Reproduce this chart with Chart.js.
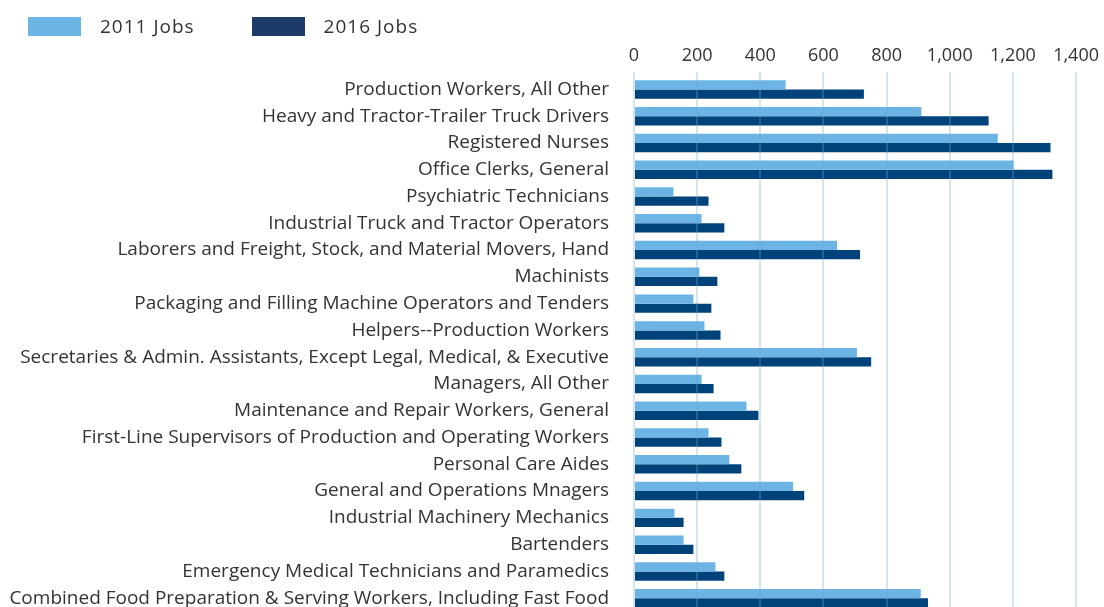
<!DOCTYPE html>
<html>
<head>
<meta charset="utf-8">
<script src="https://cdn.jsdelivr.net/npm/chart.js@4.4.1/dist/chart.umd.min.js"></script>
<style>
  html, body { margin: 0; padding: 0; background: #fff; overflow: hidden; }
  #wrap { position: relative; width: 1104px; height: 640px; }
  #legend { position: absolute; left: 28px; top: 13px; display: flex; font-family: 'Open Sans', sans-serif; font-size: 19px; letter-spacing: 1px; color: #333; }
  .item { display: flex; align-items: center; margin-right: 57px; }
  .swatch { width: 53px; height: 19px; margin-right: 19px; }
</style>
</head>
<body>
<div id="wrap">
  <canvas id="chart" width="1104" height="640"></canvas>
  <div id="legend"></div>
</div>
<script>
// --- Data ---
const categories = [
  'Production Workers, All Other',
  'Heavy and Tractor-Trailer Truck Drivers',
  'Registered Nurses',
  'Office Clerks, General',
  'Psychiatric Technicians',
  'Industrial Truck and Tractor Operators',
  'Laborers and Freight, Stock, and Material Movers, Hand',
  'Machinists',
  'Packaging and Filling Machine Operators and Tenders',
  'Helpers--Production Workers',
  'Secretaries & Admin. Assistants, Except Legal, Medical, & Executive',
  'Managers, All Other',
  'Maintenance and Repair Workers, General',
  'First-Line Supervisors of Production and Operating Workers',
  'Personal Care Aides',
  'General and Operations Mnagers',
  'Industrial Machinery Mechanics',
  'Bartenders',
  'Emergency Medical Technicians and Paramedics',
  'Combined Food Preparation & Serving Workers, Including Fast Food'
];
const jobs2011 = [480, 910, 1152, 1202, 125, 214, 643, 207, 188, 223, 706, 214, 356, 236, 302, 504, 128, 157, 258, 908];
const jobs2016 = [728, 1123, 1319, 1325, 236, 286, 716, 264, 245, 274, 751, 252, 394, 277, 340, 539, 157, 188, 286, 931];
const seriesNames = ['2011 Jobs', '2016 Jobs'];

const barColors = ['#6cb4e4', '#00437a'];
const legendColors = ['#6cb6e6', '#1d3a68'];

// --- Legend (HTML) ---
const legendEl = document.getElementById('legend');
seriesNames.forEach((name, i) => {
  const el = document.createElement('div');
  el.className = 'item';
  el.innerHTML = `<span class="swatch" style="background:${legendColors[i]}"></span><span>${name}</span>`;
  legendEl.appendChild(el);
});

// --- Chart ---
const tickFont = { family: "'Open Sans', sans-serif", size: 18 };
const labelFont = { family: "'Open Sans', sans-serif", size: 19 };

new Chart(document.getElementById('chart').getContext('2d'), {
  type: 'bar',
  data: {
    labels: categories,
    datasets: [
      { label: seriesNames[0], data: jobs2011, backgroundColor: barColors[0], categoryPercentage: 0.69, barPercentage: 1 },
      { label: seriesNames[1], data: jobs2016, backgroundColor: barColors[1], categoryPercentage: 0.69, barPercentage: 1 }
    ]
  },
  options: {
    indexAxis: 'y',
    responsive: false,
    animation: false,
    layout: { padding: { top: 0, right: 27, left: 0, bottom: 0 } },
    plugins: {
      legend: { display: false },
      tooltip: { enabled: false }
    },
    scales: {
      x: {
        position: 'top',
        min: 0,
        max: 1400,
        afterFit: (scale) => { scale.height = 76; },
        ticks: { stepSize: 200, color: '#333', font: tickFont, padding: 5 },
        grid: { color: 'rgba(110, 170, 210, 0.3)', lineWidth: 2, z: 1, tickLength: 4 },
        border: { display: false }
      },
      y: {
        afterFit: (scale) => { scale.width = 634; },
        ticks: { color: '#333', font: labelFont, padding: 17, autoSkip: false },
        grid: { display: false },
        border: { display: false }
      }
    }
  }
});
</script>
</body>
</html>
